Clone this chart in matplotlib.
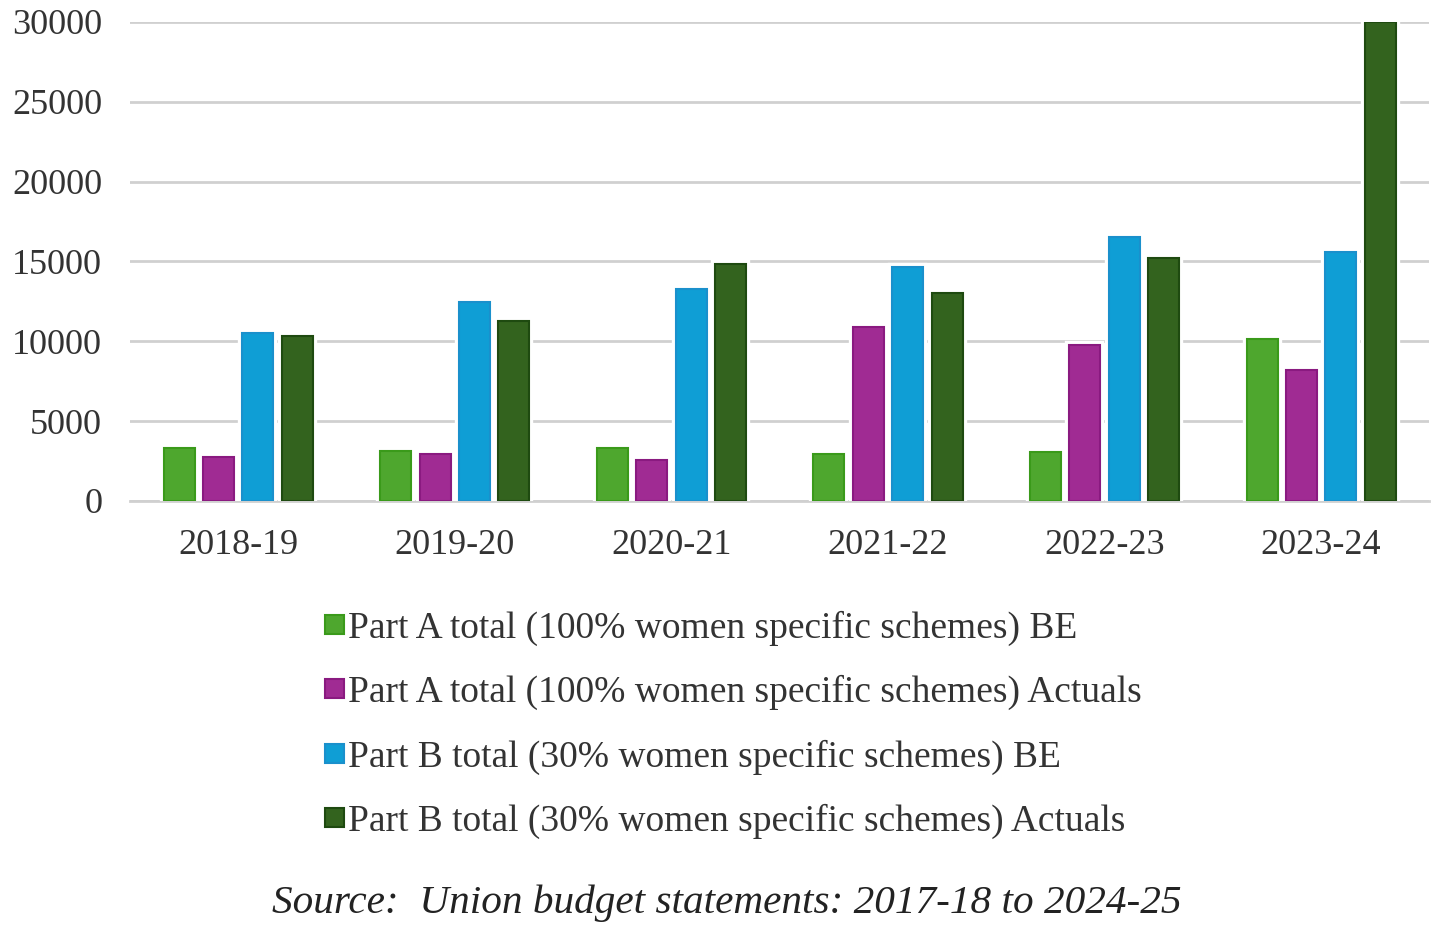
import matplotlib.pyplot as plt
import matplotlib.patheffects as pe
import numpy as np

# values
years = ['2018-19', '2019-20', '2020-21', '2021-22', '2022-23', '2023-24']
part_a_be = [3300, 3130, 3300, 2925, 3090, 10130]
part_a_act = [2740, 2945, 2550, 10920, 9750, 8200]
part_b_be = [10540, 12490, 13265, 14640, 16560, 15620]
part_b_act = [10340, 11300, 14830, 13050, 15200, 30000]

labels = ['Part A total (100% women specific schemes) BE',
          'Part A total (100% women specific schemes) Actuals',
          'Part B total (30% women specific schemes) BE',
          'Part B total (30% women specific schemes) Actuals']
colors = ['#4EA72E', '#A02B93', '#0F9ED5', '#33631E']
edges = ['#3A9A1A', '#8A1A80', '#1A90CC', '#1E4A10']

plt.rcParams['font.family'] = ['Liberation Serif', 'DejaVu Serif']

fig = plt.figure(figsize=(14.41, 9.35), dpi=100)
ax = fig.add_axes([0.0902, 0.4642, 0.9018, 0.5123])

x = np.arange(len(years))
step = 0.182
width = 0.143
series = [part_a_be, part_a_act, part_b_be, part_b_act]
for i, vals in enumerate(series):
    bars = ax.bar(x + (i - 1.5) * step, vals, width, color=colors[i],
                  edgecolor=edges[i], linewidth=1.5, label=labels[i], zorder=3)
    for b in bars:
        b.set_path_effects([pe.Stroke(linewidth=6, foreground='white'), pe.Normal()])

ax.set_xlim(-0.5, len(years) - 0.5)
ax.set_ylim(0, 30000)
ax.set_yticks(range(0, 30001, 5000))
ax.set_xticks(x)
ax.set_xticklabels(years)
ax.yaxis.grid(True, color='#D0D0D0', linewidth=2, zorder=0)
ax.set_axisbelow(True)
for s in ['top', 'right', 'left']:
    ax.spines[s].set_visible(False)
ax.spines['bottom'].set_color('#D0D0D0')
ax.spines['bottom'].set_linewidth(2)
ax.tick_params(axis='both', length=0, labelsize=26, colors='#333333')
ax.tick_params(axis='x', pad=20)
ax.tick_params(axis='y', pad=20)

leg = fig.legend(loc='upper left', bbox_to_anchor=(0.202, 0.383), frameon=False,
                 fontsize=27, handlelength=0.5, handleheight=0.4,
                 handletextpad=0.13, labelspacing=0.78)
for t in leg.get_texts():
    t.set_color('#333333')

fig.text(0.504, 0.034, 'Source:  Union budget statements: 2017-18 to 2024-25',
         ha='center', va='center', fontsize=29.7, style='italic', color='#222222')

fig.savefig('out.png', dpi=100)
